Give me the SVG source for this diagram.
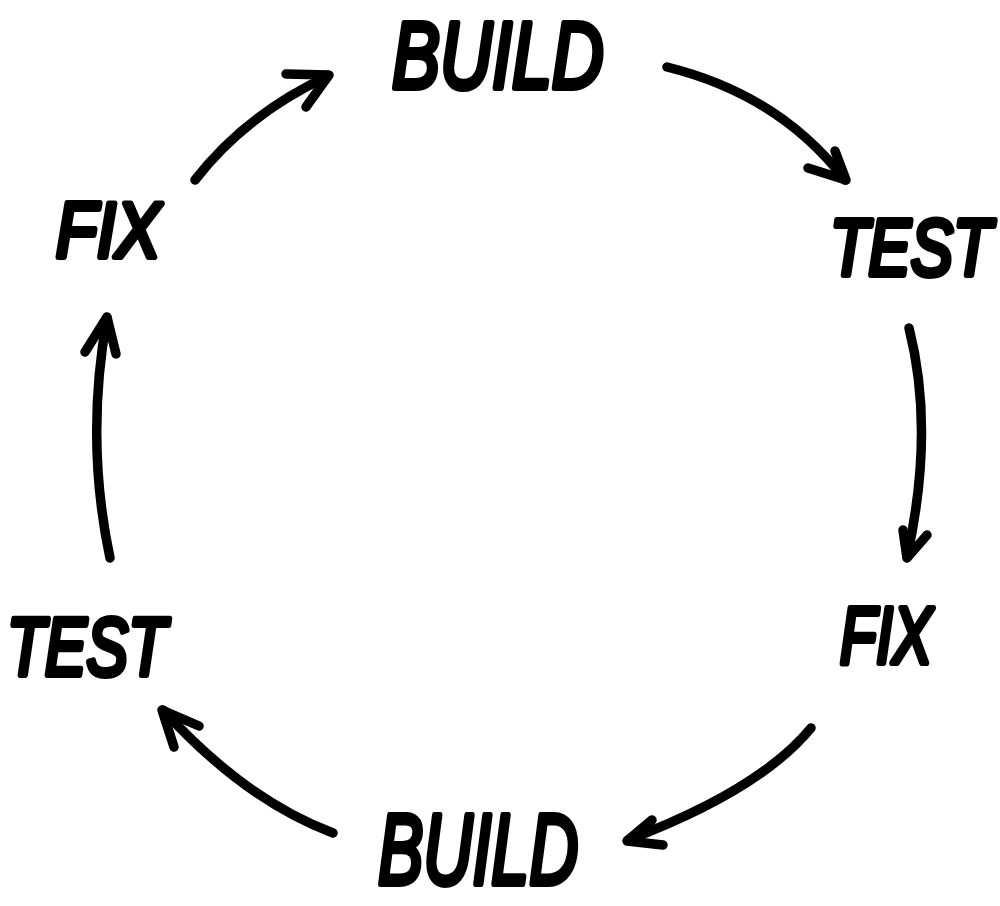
<svg xmlns="http://www.w3.org/2000/svg" width="1000" height="906" viewBox="0 0 1000 906">
  <style>
    .lbl { font-family: "Liberation Sans", Arial, sans-serif; font-weight: normal; font-style: italic; fill: #000; stroke: #000; stroke-width: 6; stroke-linejoin: round; stroke-linecap: round; }
    .line { fill: none; stroke: #000; stroke-width: 9.5; stroke-linecap: round; stroke-linejoin: round; }
  </style>
  <rect width="1000" height="906" fill="#fff"/>
  <g id="connectors">
    <g id="fix-to-build-top">
      <path class="line" d="M195,180 Q245,115 328,76"/>
      <path class="line" d="M286,74 L329,75 L306,107"/>
    </g>
    <g id="build-to-test-right">
      <path class="line" d="M667,67 Q780,95 845,180"/>
      <path class="line" d="M808,168 L846,180 L835,151"/>
    </g>
    <g id="test-to-fix-right">
      <path class="line" d="M909,328 Q935,430 907,557"/>
      <path class="line" d="M903,530 L907,558 L927,535"/>
    </g>
    <g id="fix-to-build-bottom">
      <path class="line" d="M811,728 Q760,790 628,840"/>
      <path class="line" d="M652,820 L627,841 L663,845"/>
    </g>
    <g id="build-to-test-left">
      <path class="line" d="M333,833 Q245,800 163,710"/>
      <path class="line" d="M174,747 L162,710 L199,726"/>
    </g>
    <g id="test-to-fix-left">
      <path class="line" d="M110,558 Q85,440 107,318"/>
      <path class="line" d="M85,352 L107,317 L116,354"/>
    </g>
  </g>
  <g id="build-top" transform="translate(392,88) scale(0.757,1)"><text class="lbl" x="0" y="0" font-size="95">BUILD</text></g>
  <g id="test-right" transform="translate(830,275) scale(0.79,1)"><text class="lbl" x="0" y="0" font-size="80">TEST</text></g>
  <g id="fix-right" transform="translate(840,663) scale(0.74,1)"><text class="lbl" x="0" y="0" font-size="80">FIX</text></g>
  <g id="build-bottom" transform="translate(378,884) scale(0.68,1)"><text class="lbl" x="0" y="0" font-size="100">BUILD</text></g>
  <g id="test-left" transform="translate(7,675) scale(0.76,1)"><text class="lbl" x="0" y="0" font-size="82">TEST</text></g>
  <g id="fix-left" transform="translate(56,257) scale(0.86,1)"><text class="lbl" x="0" y="0" font-size="78">FIX</text></g>
</svg>
